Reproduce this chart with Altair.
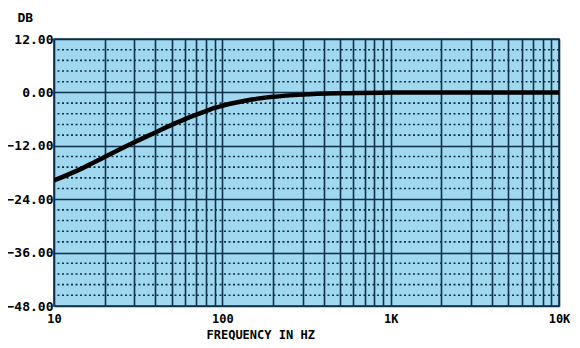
import altair as alt
import pandas as pd

# Curve (frequency in Hz, level in dB)
freq = [10, 15, 20, 30, 40, 50, 60, 70, 80, 90, 100, 150, 200, 300, 500, 1000, 2000, 5000, 10000]
db = [-19.8, -16.9, -14.5, -11.2, -9.0, -7.3, -6.0, -5.0, -4.2, -3.5, -3.0, -1.6, -1.0, -0.5, -0.2, -0.05, 0.0, 0.0, 0.0]

y_major = [-48, -36, -24, -12, 0, 12]
y_minor = [-45.6, -43.2, -40.8, -38.4, -33.6, -31.2, -28.8, -26.4,
           -21.6, -19.2, -16.8, -14.4, -9.6, -7.2, -4.8, -2.4,
           2.4, 4.8, 7.2, 9.6]
x_grid = [m * d for d in (10, 100, 1000) for m in range(1, 10)] + [10000]

FONT = "DejaVu Sans Mono"
GRID = "#0f2f4a"
BG = "#9fd8ef"

curve_df = pd.DataFrame({"f": freq, "db": db})
minor_df = pd.DataFrame({"v": y_minor})

xscale = alt.Scale(type="log", domain=[10, 10000], nice=False)
yscale = alt.Scale(domain=[-48, 12], nice=False, zero=False)

label_expr = ("datum.value == 10 ? '10' : datum.value == 100 ? '100' : "
              "datum.value == 1000 ? '1K' : datum.value == 10000 ? '10K' : ''")

curve = alt.Chart(curve_df).mark_line(
    color="black", strokeWidth=4.5, interpolate="monotone", clip=True
).encode(
    x=alt.X("f:Q", scale=xscale, axis=alt.Axis(
        values=x_grid, labelExpr=label_expr, grid=True, gridColor=GRID,
        gridWidth=1.6, gridOpacity=1, ticks=False, domain=False,
        labelFont=FONT, labelFontSize=12, labelFontWeight="bold",
        labelColor="black", labelPadding=7, labelFlush=False,
        title="FREQUENCY IN HZ", titleFont=FONT, titleFontSize=12,
        titleFontWeight="bold", titleColor="black", titleAlign="left",
        titleAnchor="start", titleX=152, titleY=32, titleBaseline="alphabetic")),
    y=alt.Y("db:Q", scale=yscale, axis=alt.Axis(
        values=y_major, format=".2f", grid=True, gridColor=GRID,
        gridWidth=1.6, gridOpacity=1, ticks=False, domain=False,
        labelFont=FONT, labelFontSize=13, labelFontWeight="bold",
        labelColor="black", labelPadding=1,
        title="DB", titleFont=FONT, titleFontSize=13, titleFontWeight="bold",
        titleColor="black", titleAngle=0, titleAlign="left",
        titleX=-37, titleY=-18, titleBaseline="alphabetic")),
)

minor = alt.Chart(minor_df).mark_rule(
    color=GRID, strokeWidth=1.6, strokeDash=[2, 2.5]
).encode(y=alt.Y("v:Q", scale=yscale))

chart = alt.layer(minor, curve).properties(
    width=505, height=267,
    autosize=alt.AutoSizeParams(type="none"),
    padding={"left": 46, "top": 31, "right": 13, "bottom": 34},
    background="white",
).configure_view(
    fill=BG, stroke=GRID, strokeWidth=1.6
)

chart.save("out.html", embed_options={"renderer": "svg", "actions": False})
